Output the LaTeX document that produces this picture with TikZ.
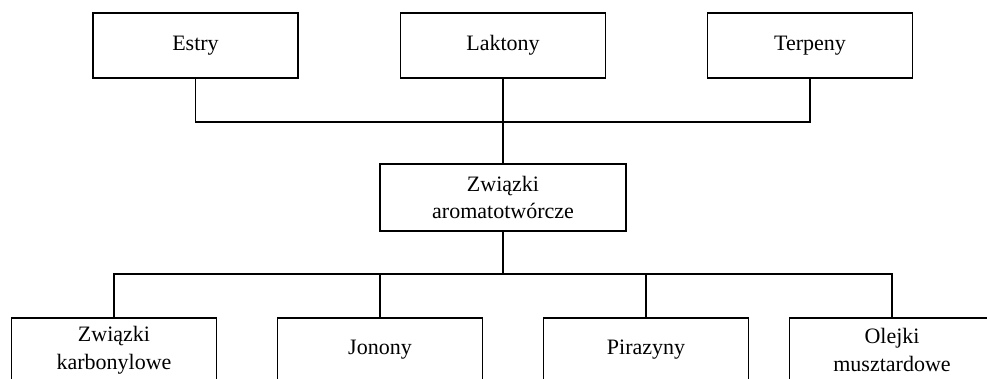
\documentclass[tikz,border=0pt]{standalone}
\usepackage{fontspec}
\setmainfont{Liberation Serif}
\begin{document}
\begin{tikzpicture}[x=1pt,y=-1pt,
  box/.style={draw=black,line width=1.5pt,fill=white,minimum width=205pt,minimum height=65pt,
    inner sep=0pt,align=center,font=\fontsize{22}{27.5}\selectfont},
  conn/.style={draw=black,line width=1.5pt}]
\useasboundingbox (0,0) rectangle (987,379);
\clip (0,0) rectangle (987,379);
\fill[white] (0,0) rectangle (987,379);
\node[box] (estry) at (195.5,45.5) {Estry};
\node[box] (laktony) at (503,45.5) {Laktony};
\node[box] (terpeny) at (810,45.5) {Terpeny};
\node[box,minimum width=246pt,minimum height=67pt] (mid) at (503,197.5) {Związki\\aromatotwórcze};
\node[box,minimum height=64pt] (b1) at (114,350) {Związki\\karbonylowe};
\node[box,minimum height=64pt] (b2) at (380,350) {Jonony};
\node[box,minimum height=64pt] (b3) at (646,350) {Pirazyny};
\node[box,minimum height=64pt] (b4) at (892,350) {Olejki\\musztardowe};
\coordinate (top) at (503,122);
\coordinate (bot) at (503,274);
\draw[conn] (estry.south) |- (top) -| (terpeny.south);
\draw[conn] (laktony.south) -- (mid.north);
\draw[conn] (mid.south) -- (bot);
\draw[conn] (b1.north) |- (bot) -| (b4.north);
\draw[conn] (b2.north) -- (b2.north |- bot);
\draw[conn] (b3.north) -- (b3.north |- bot);
\end{tikzpicture}
\end{document}
